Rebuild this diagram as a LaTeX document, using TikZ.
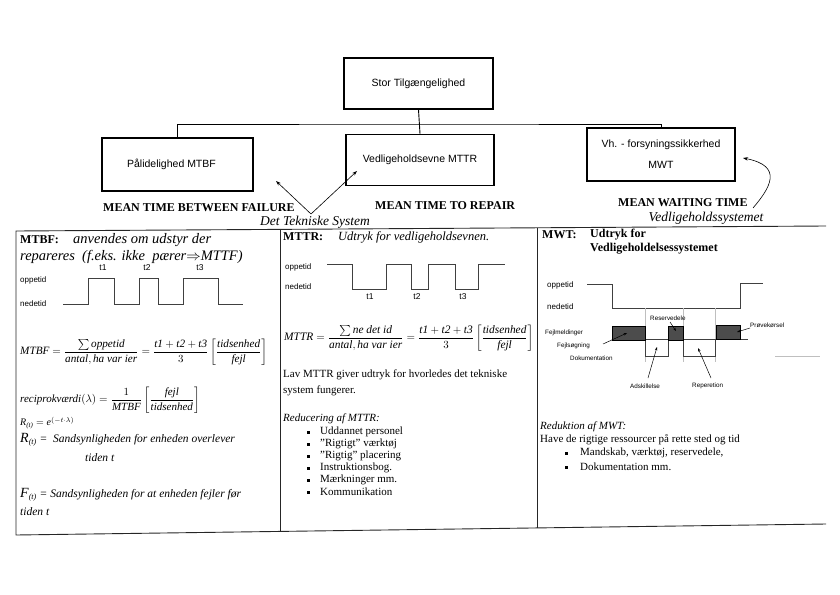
\documentclass[tikz,border=0pt]{standalone}
\usepackage{amsmath}
\usepackage{fontspec}
\setmainfont{Liberation Serif}
\setsansfont{Liberation Sans}
\usetikzlibrary{arrows.meta}
\newcommand\fsz[2]{\fontsize{#1}{#2}\selectfont}
\begin{document}
\begin{tikzpicture}[x=1pt,y=-1pt,
  tbox/.style={draw, line width=1.5pt, inner sep=0pt, font=\sffamily\fsz{10.5}{13}},
  link/.style={line width=0.9pt},
  meanlbl/.style={font=\bfseries\fsz{12}{14}, inner sep=0pt},
  sysl/.style={font=\itshape\fsz{13.5}{15}, inner sep=0pt},
  arr/.style={line width=0.6pt, -{Stealth[length=5pt,width=3.5pt]}},
  panel/.style={line width=0.9pt, black!85},
  wave/.style={line width=0.9pt, black!75},
  wl/.style={font=\sffamily\fsz{8}{9}, anchor=west, inner sep=0pt},
  tl/.style={font=\sffamily\fsz{8.5}{10}, inner sep=0pt},
  body/.style={font=\fsz{11}{13}, anchor=west, inner sep=0pt},
  hdr/.style={font=\bfseries\fsz{12}{14}, anchor=west, inner sep=0pt},
  hit/.style={font=\itshape\fsz{14.5}{16}, anchor=west, inner sep=0pt},
  tiny/.style={font=\sffamily\fsz{6.3}{7}, anchor=west, inner sep=0pt},
  bul/.style={fill, minimum size=3pt, inner sep=0pt},
  shadebox/.style={draw, fill=black!70, line width=0.6pt},
  faint/.style={line width=0.4pt, black!25},
  thinarr/.style={line width=0.5pt, -{Stealth[length=3.5pt,width=2.5pt]}}
]
\useasboundingbox (0,0) rectangle (840,594);

% ---------- tree ----------
\node[tbox, minimum width=149pt, minimum height=51pt] (top) at (418.5,83.5) {Stor Tilgængelighed};
\node[tbox, minimum width=151pt, minimum height=53pt] (pal) at (177.5,164.5) {\hspace*{-12pt}Pålidelighed MTBF};
\node[tbox, minimum width=148pt, minimum height=51pt] (ved) at (420,160) {Vedligeholdsevne MTTR};
\node[tbox, minimum width=148pt, minimum height=53pt, align=center] (vh) at (661,154.5) {Vh. - forsyningssikkerhed\\[8pt]MWT};
\coordinate (j) at (418.5,124);
\draw[link] (top.south) -- (ved.north);
\draw[link] (pal.north) |- (j) -| (vh.north);

\node[meanlbl, anchor=west] (mtbfl) at (103,208) {MEAN TIME BETWEEN FAILURE};
\node[meanlbl, anchor=west] (mttrl) at (375,206) {MEAN TIME TO REPAIR};
\node[meanlbl, anchor=west] (mwtl) at (618,203) {MEAN WAITING TIME};
\node[sysl] (dts) at (315,222) {Det Tekniske System};
\node[sysl] (vss) at (706,218) {Vedligeholdssystemet};

\coordinate (v) at (311,214);
\coordinate (aL) at (276,181);
\coordinate (aM) at (357,171);
\draw[arr] (v) -- (aL);
\draw[arr] (v) -- (aM);
\coordinate (c0) at (753,208);
\coordinate (c1) at (743,158);
\draw[arr] (c0) .. controls (770,188) and (784,166) .. (c1);

% ---------- panel frame ----------
\draw[panel] (826,226) -- (16,231) -- (16,535) -- (826,524);
\draw[panel] (280,230) -- (280,532);
\draw[panel] (537,228) -- (537,528);

% ---------- MTBF panel ----------
\node[hdr] (h1) at (20,240) {MTBF:};
\node[hit] (h1t) at (73,240) {anvendes om udstyr der};
\node[hit] (h1u) at (20,257) {repareres\ \ (f.eks. ikke\ \ pærer$\Rightarrow$MTTF)};
\node[wl] (op1) at (20,280) {oppetid};
\node[wl] (ne1) at (20,304) {nedetid};
\draw[wave] (63,304) -- (88,304) -- (88,278) -- (114,278) -- (114,304) -- (139,304) -- (139,278) -- (158,278) -- (158,304) -- (183,304) -- (183,278) -- (218,278) -- (218,304) -- (243,304);
\node[tl] (t1a) at (103,268) {t1};
\node[tl] (t2a) at (147,268) {t2};
\node[tl] (t3a) at (200,268) {t3};
\node[body, font=\fsz{11.2}{13}] (fm1) at (20,352) {$\textit{MTBF}=\dfrac{\textstyle\sum\textit{oppetid}}{\textit{antal},\textit{ha var ier}}=\dfrac{\textit{t1}+\textit{t2}+\textit{t3}}{3}\left[\dfrac{\textit{tidsenhed}}{\textit{fejl}}\right]$};
\node[body] (fm2) at (20,400) {$\textit{reciprokværdi}(\lambda)=\dfrac{1}{\textit{MTBF}}\left[\dfrac{\textit{fejl}}{\textit{tidsenhed}}\right]$};
\node[body, font=\fsz{10}{11}] (fm3) at (20,423) {$\textit{R}_{\textit{(t)}}=\textit{e}^{(-t\cdot\lambda)}$};
\node[body, font=\itshape\fsz{11.5}{13}] (fm4) at (20,440) {{\fsz{14}{14}\textit{R}}$_{\textit{(t)}}$ = \ Sandsynligheden for enheden overlever};
\node[body, font=\itshape\fsz{11.5}{13}] (fm4b) at (85,458) {tiden t};
\node[body, font=\itshape\fsz{11.5}{13}] (fm5) at (20,495) {{\fsz{14}{14}\textit{F}}$_{\textit{(t)}}$ = Sandsynligheden for at enheden fejler før};
\node[body, font=\itshape\fsz{11.5}{13}] (fm5b) at (20,512) {tiden t};

% ---------- MTTR panel ----------
\node[hdr] (h2) at (283,237) {MTTR:};
\node[body, font=\itshape\fsz{12.5}{14}] (h2t) at (338,237) {Udtryk for vedligeholdsevnen.};
\node[wl] (op2) at (285,267) {oppetid};
\node[wl] (ne2) at (285,287) {nedetid};
\draw[wave] (327,264) -- (352,264) -- (352,289) -- (386,289) -- (386,264) -- (411,264) -- (411,289) -- (428,289) -- (428,264) -- (455,264) -- (455,289) -- (478,289) -- (478,264) -- (505,264);
\node[tl] (t1b) at (370,297) {t1};
\node[tl] (t2b) at (417,297) {t2};
\node[tl] (t3b) at (463,297) {t3};
\node[body, font=\fsz{11.4}{13}] (fm6) at (284,338) {$\textit{MTTR}=\dfrac{\textstyle\sum\textit{ne det id}}{\textit{antal},\textit{ha var ier}}=\dfrac{\textit{t1}+\textit{t2}+\textit{t3}}{3}\left[\dfrac{\textit{tidsenhed}}{\textit{fejl}}\right]$};
\node[body] (lav1) at (283,375) {Lav MTTR giver udtryk for hvorledes det tekniske};
\node[body] (lav2) at (283,391) {system fungerer.};
\node[body, font=\itshape\fsz{11}{13}] (red1) at (283,419) {Reducering af MTTR:};
\foreach \yy/\tt [count=\i] in {432/Uddannet personel, 444/"Rigtigt" værktøj, 456/"Rigtig" placering, 468/Instruktionsbog., 480/Mærkninger mm., 492/Kommunikation}{
  \node[bul] (b2\i) at (308,\yy) {};
  \node[body] (r2\i) at (320,\yy) {\tt};
}

% ---------- MWT panel ----------
\node[hdr] (h3) at (542,235) {MWT:};
\node[hdr] (h3t) at (590,235) {Udtryk for};
\node[hdr] (h3u) at (590,249) {Vedligeholdelsessystemet};
\node[wl] (op3) at (547,285) {oppetid};
\node[wl] (ne3) at (547,307) {nedetid};
\draw[wave] (587,284) -- (612,284) -- (612,308) -- (740,308) -- (740,283) -- (763,283);
\draw[faint] (645,308) -- (645,362);
\draw[faint] (683,308) -- (683,362);
\draw[faint] (715,308) -- (715,362);
\draw[faint] (775,356) -- (820,356);
\draw[wave, line width=0.7pt] (612,339) -- (748,339);
\draw[wave, line width=0.7pt] (645,339) -- (645,356) -- (668,356) -- (668,339);
\draw[wave, line width=0.7pt] (683,339) -- (683,356) -- (715,356) -- (715,339);
\draw[shadebox] (612,326) rectangle (645,340);
\draw[shadebox] (668,326) rectangle (683,340);
\draw[shadebox] (716,325) rectangle (740,339);
\node[tiny] (fm) at (545,333) {Fejlmeldinger};
\node[tiny] (fs) at (557,346) {Fejlsøgning};
\node[tiny] (dk) at (570,358) {Dokumentation};
\node[tiny] (rv) at (650,318) {Reservedele};
\node[tiny] (pk) at (750,325) {Prøvekørsel};
\node[tiny] (ad) at (630,386) {Adskillelse};
\node[tiny] (rp) at (692,386) {Reperetion};
\coordinate (f0) at (603,344); \coordinate (f1) at (627,333);
\draw[thinarr] (f0) -- (f1);
\coordinate (r0) at (670,322); \coordinate (r1) at (676,331);
\draw[thinarr] (r0) -- (r1);
\coordinate (p0) at (750,328); \coordinate (p1) at (737,332);
\draw[thinarr] (p0) -- (p1);
\coordinate (a0) at (648,378); \coordinate (a1) at (657,347);
\draw[thinarr] (a0) -- (a1);
\coordinate (e0) at (711,378); \coordinate (e1) at (698,348);
\draw[thinarr] (e0) -- (e1);
\node[body, font=\itshape\fsz{11}{13}] (red3) at (540,427) {Reduktion af MWT:};
\node[body] (hv) at (540,440) {Have de rigtige ressourcer på rette sted og tid};
\node[bul] (b31) at (566,453) {};
\node[body] (m31) at (580,453) {Mandskab, værktøj, reservedele,};
\node[bul] (b32) at (566,467) {};
\node[body] (m32) at (580,467) {Dokumentation mm.};
\end{tikzpicture}
\end{document}
